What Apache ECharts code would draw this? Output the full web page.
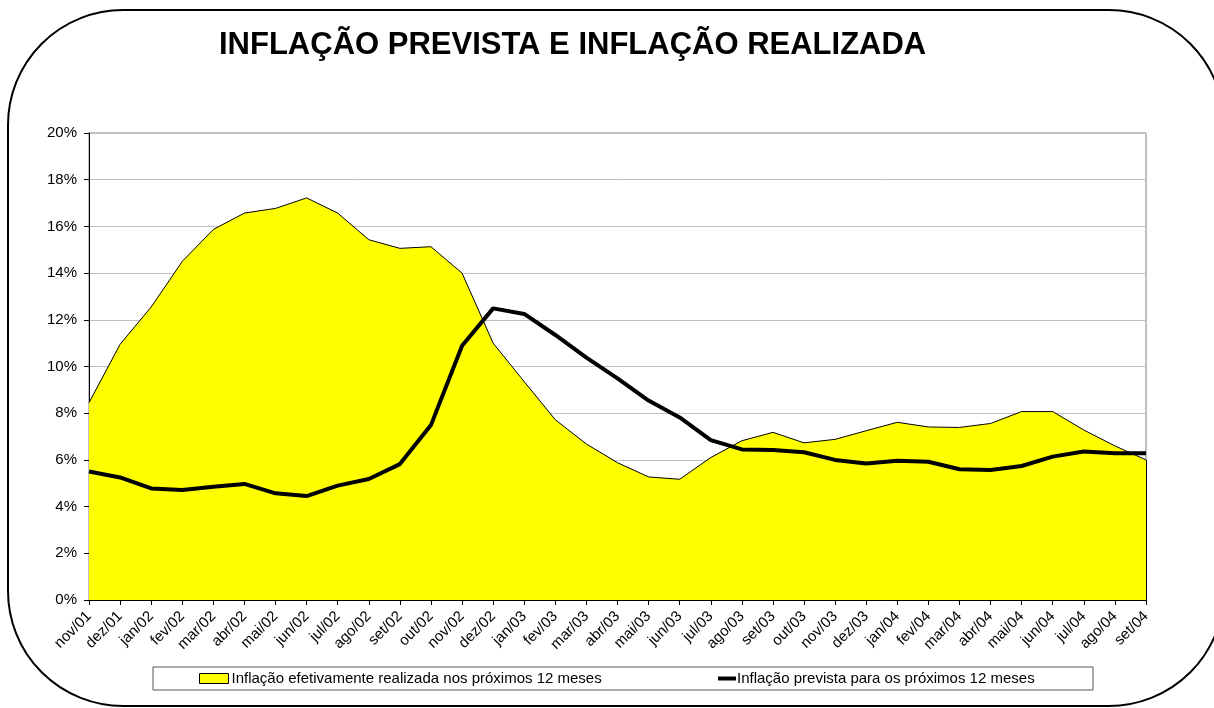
<!DOCTYPE html>
<html>
<head>
<meta charset="utf-8">
<title>Inflação prevista e realizada</title>
<script src="https://cdn.jsdelivr.net/npm/echarts@6/dist/echarts.min.js"></script>
<style>
	html, body { margin: 0; padding: 0; background: #fff; }
	#main { width: 1214px; height: 708px; }
</style>
</head>
<body>
<div id="main"></div>
<script>
// meses do eixo x
var meses = ['nov/01', 'dez/01', 'jan/02', 'fev/02', 'mar/02', 'abr/02', 'mai/02', 'jun/02', 'jul/02', 'ago/02', 'set/02', 'out/02',
	'nov/02', 'dez/02', 'jan/03', 'fev/03', 'mar/03', 'abr/03', 'mai/03', 'jun/03', 'jul/03', 'ago/03', 'set/03', 'out/03',
	'nov/03', 'dez/03', 'jan/04', 'fev/04', 'mar/04', 'abr/04', 'mai/04', 'jun/04', 'jul/04', 'ago/04', 'set/04'];
// inflação efetivamente realizada (%)
var realizada = [8.45, 10.95, 12.55, 14.5, 15.87, 16.57, 16.77, 17.22, 16.57, 15.43, 15.06, 15.13,
	14.0, 11.0, 9.35, 7.72, 6.68, 5.88, 5.27, 5.17, 6.1, 6.82, 7.18, 6.73,
	6.88, 7.25, 7.61, 7.41, 7.39, 7.56, 8.07, 8.07, 7.28, 6.6, 6.0];
// inflação prevista (%)
var prevista = [5.5, 5.25, 4.78, 4.71, 4.85, 4.97, 4.57, 4.45, 4.9, 5.18, 5.82, 7.49,
	10.89, 12.49, 12.25, 11.35, 10.38, 9.49, 8.54, 7.82, 6.85, 6.45, 6.42, 6.33,
	6.0, 5.85, 5.96, 5.92, 5.6, 5.57, 5.74, 6.14, 6.36, 6.28, 6.28];
var nomes = ['Inflação efetivamente realizada nos próximos 12 meses', 'Inflação prevista para os próximos 12 meses'];

var fonte = 'Arial, "Liberation Sans", sans-serif';
var myChart = echarts.init(document.getElementById('main'));

var option = {
	backgroundColor: '#fff',
	animation: false,
	textStyle: { fontFamily: fonte },
	title: {
		text: 'INFLAÇÃO PREVISTA E INFLAÇÃO REALIZADA',
		left: 214,
		top: 25,
		textStyle: { fontSize: 31, fontWeight: 'bold', color: '#000', fontFamily: fonte }
	},
	// moldura arredondada + caixa da legenda
	graphic: [{
			type: 'rect',
			z: -1,
			shape: { x: 8, y: 10, width: 1216, height: 696, r: 115 },
			style: { fill: 'none', stroke: '#000', lineWidth: 2 }
		},
		{
			type: 'rect',
			z: -1,
			shape: { x: 153, y: 667, width: 940, height: 23 },
			style: { fill: '#fff', stroke: '#555', lineWidth: 1 }
		}
	],
	legend: [{
			data: [{ name: nomes[0], icon: 'rect', itemStyle: { color: '#ffff00', borderColor: '#000', borderWidth: 1 } }],
			left: 199,
			top: 671,
			padding: 0,
			itemWidth: 29,
			itemHeight: 10,
			textStyle: { fontSize: 15, color: '#000', padding: [0, 0, 0, -2] }
		},
		{
			data: [{ name: nomes[1], icon: 'rect', itemStyle: { color: '#000', borderWidth: 0 } }],
			left: 718,
			top: 671,
			padding: 0,
			itemWidth: 18,
			itemHeight: 4,
			textStyle: { fontSize: 15, color: '#000', padding: [0, 0, 0, -4] }
		}
	],
	grid: {
		left: 89,
		right: 68,
		top: 133,
		bottom: 108,
		show: true,
		borderColor: '#808080',
		borderWidth: 1
	},
	xAxis: {
		type: 'category',
		data: meses,
		boundaryGap: false,
		axisLine: { lineStyle: { color: '#000', width: 1 } },
		axisTick: { show: true, length: 5, alignWithLabel: true, lineStyle: { color: '#000' } },
		axisLabel: { interval: 0, rotate: 45, fontSize: 15, color: '#000', margin: 14 }
	},
	yAxis: {
		type: 'value',
		min: 0,
		max: 20,
		interval: 2,
		axisLine: { show: true, lineStyle: { color: '#000', width: 1 } },
		axisTick: { show: true, length: 5, lineStyle: { color: '#000' } },
		axisLabel: { formatter: '{value}%', fontSize: 15, color: '#000', margin: 12 },
		splitLine: { lineStyle: { color: '#c0c0c0', width: 1 } }
	},
	series: [{
			name: nomes[0],
			type: 'line',
			data: realizada,
			symbol: 'none',
			itemStyle: { color: '#ffff00' },
			lineStyle: { color: '#000', width: 1 },
			areaStyle: { color: '#ffff00', opacity: 1 },
			// borda direita da área, como no original
			markLine: {
				silent: true,
				symbol: 'none',
				label: { show: false },
				lineStyle: { color: '#000', width: 1, type: 'solid' },
				data: [[{ coord: [meses.length - 1, 0] }, { coord: [meses.length - 1, realizada[realizada.length - 1]] }]]
			},
			z: 2
		},
		{
			name: nomes[1],
			type: 'line',
			data: prevista,
			symbol: 'none',
			itemStyle: { color: '#000' },
			lineStyle: { color: '#000', width: 4 },
			z: 3
		}
	]
};

myChart.setOption(option);
</script>
</body>
</html>
